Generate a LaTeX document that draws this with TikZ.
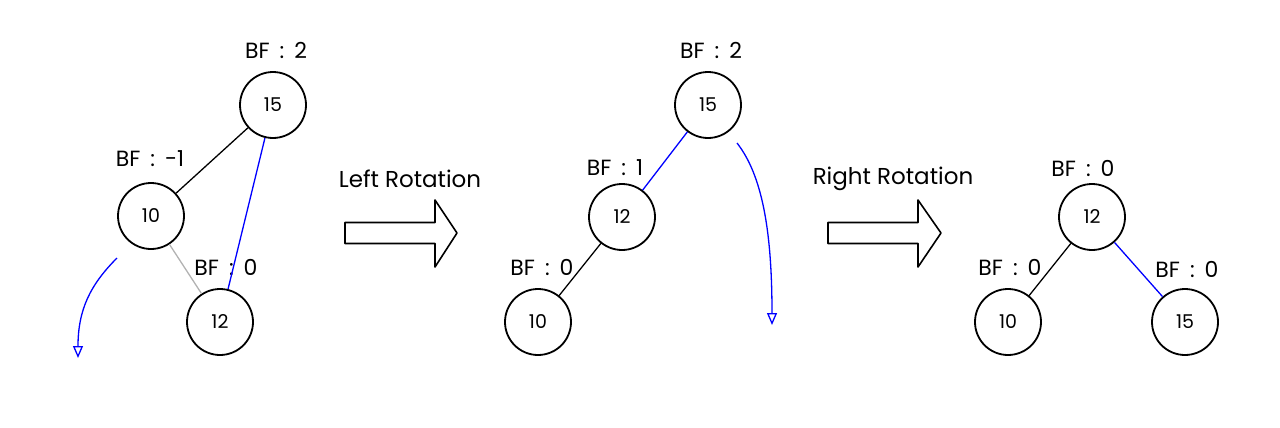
\documentclass[tikz,border=0pt]{standalone}
\usepackage{fontspec}
\setmainfont{Poppins}
\usetikzlibrary{arrows.meta}
\begin{document}
\begin{tikzpicture}[x=0.5pt, y=-0.5pt,
    key/.style={circle, draw, line width=0.9pt, minimum size=33pt, inner sep=0pt, font=\fontsize{9.5}{10}\selectfont},
    bf/.style={font={\fontsize{11}{13}\selectfont\spaceskip=5pt\relax}},
    rot/.style={font=\fontsize{11.5}{13}\selectfont},
    edge/.style={line width=0.65pt},
    bent/.style={blue, line width=0.65pt, -{Triangle[open, length=6pt, width=5pt]}},
    bigarrow/.style={draw, line width=0.8pt, line join=round}]
  \useasboundingbox (0, 0) rectangle (1280, 428);
  \pgfmathsetmacro{\hw}{10.5}
  % before
  \node[key] (a15) at (273, 105) {15};
  \node[key] (a10) at (151, 216) {10};
  \node[key] (a12) at (220, 322) {12};
  \node[bf] (bfa15) at (276, 50) {BF : 2};
  \node[bf] (bfa10) at (150, 159) {BF : -1};
  \node[bf] (bfa12) at (226, 267) {BF : 0};
  \draw[edge] (a15) -- (a10);
  \draw[edge, gray!60] (a10) -- (a12);
  \draw[edge, blue] (a15) -- (a12);
  \coordinate (sa) at (117, 258);
  \coordinate (ea) at (78, 358);
  \draw[bent] (sa) .. controls (90, 285) and (78, 310) .. (ea);

  \node[rot] (left) at (410, 179) {Left Rotation};
  \draw[bigarrow] (345, 233-\hw) -- (435, 233-\hw) -- (435, 200) -- (457, 233)
    -- (435, 267) -- (435, 233+\hw) -- (345, 233+\hw) -- cycle;

  % after left rotation
  \node[key] (b15) at (708, 105) {15};
  \node[key] (b12) at (622, 217) {12};
  \node[key] (b10) at (538, 322) {10};
  \node[bf] (bfb15) at (711, 50) {BF : 2};
  \node[bf] (bfb12) at (615, 168) {BF : 1};
  \node[bf] (bfb10) at (542, 267) {BF : 0};
  \draw[edge, blue] (b15) -- (b12);
  \draw[edge] (b12) -- (b10);
  \coordinate (sb) at (737, 143);
  \coordinate (eb) at (772, 325);
  \draw[bent] (sb) .. controls (762, 175) and (772, 230) .. (eb);

  \node[rot] (right) at (893, 179) {Right Rotation};
  \draw[bigarrow] (828, 233-\hw) -- (918, 233-\hw) -- (918, 200) -- (941, 233)
    -- (918, 267) -- (918, 233+\hw) -- (828, 233+\hw) -- cycle;

  % after right rotation
  \node[key] (c12) at (1092, 217) {12};
  \node[key] (c10) at (1008, 322) {10};
  \node[key] (c15) at (1185, 322) {15};
  \node[bf] (bfc12) at (1083, 168) {BF : 0};
  \node[bf] (bfc10) at (1010, 267) {BF : 0};
  \node[bf] (bfc15) at (1187, 269) {BF : 0};
  \draw[edge] (c12) -- (c10);
  \draw[edge, blue] (c12) -- (c15);
\end{tikzpicture}
\end{document}
